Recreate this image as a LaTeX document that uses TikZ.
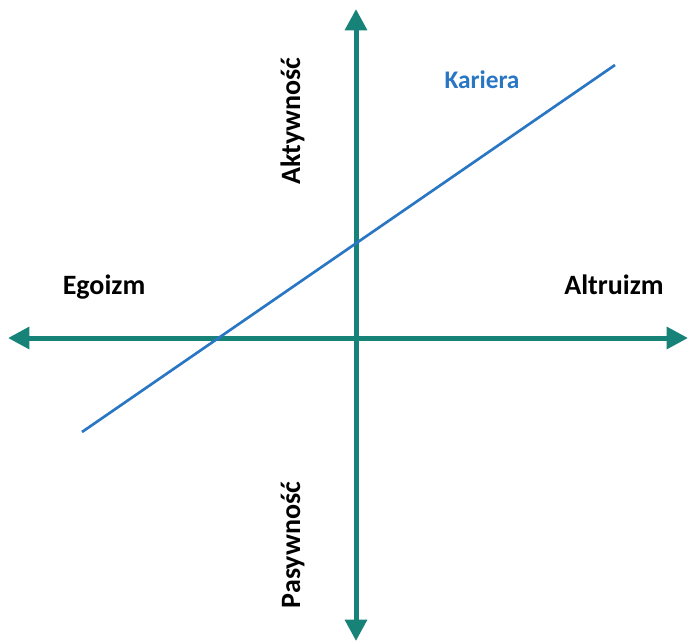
\documentclass[tikz,border=0pt]{standalone}
\usepackage{fontspec}
\setmainfont{Carlito}
\usetikzlibrary{arrows.meta}
\definecolor{axisteal}{RGB}{22,130,120}
\definecolor{careerblue}{RGB}{40,118,196}
\tikzset{every picture/.style={line width=0.75pt}}
\tikzset{
axis line/.style={draw=axisteal, line width=3.75pt, -{Triangle[width=16pt,length=16pt]}},
axis label/.style={anchor=base, inner sep=0.75pt, font=\fontsize{21}{25}\selectfont\bfseries},
career label/.style={anchor=base, inner sep=0.75pt, text=careerblue, font=\fontsize{19}{23}\selectfont\bfseries}}

\begin{document}
\begin{tikzpicture}[x=0.75pt,y=0.75pt,yscale=-1,xscale=1]
\useasboundingbox (0,0) rectangle (690,643);

%Axis ends
\coordinate (origin) at (356,338);
\coordinate (west) at (8,338);
\coordinate (east) at (688,338);
\coordinate (north) at (356,9);
\coordinate (south) at (356,641);
%Career line ends
\coordinate (careerStart) at (82,432);
\coordinate (careerEnd) at (615,65);

%Horizontal axis
\draw [axis line] (origin) -- (west) ;
\draw [axis line] (origin) -- (east) ;
%Vertical axis
\draw [axis line] (origin) -- (north) ;
\draw [axis line] (origin) -- (south) ;
%Career line
\draw [careerblue, line width=2pt] (careerStart) -- (careerEnd) ;

% Text Node
\node (egoism) at (104,294) [axis label] {Egoizm};
% Text Node
\node (altruism) at (614,294) [axis label] {Altruizm};
% Text Node
\node (activity) at (300,121) [axis label, rotate=90] {Aktywność};
% Text Node
\node (passivity) at (300,545) [axis label, rotate=90] {Pasywność};
% Text Node
\node (career) at (482,88) [career label] {Kariera};

\end{tikzpicture}
\end{document}
